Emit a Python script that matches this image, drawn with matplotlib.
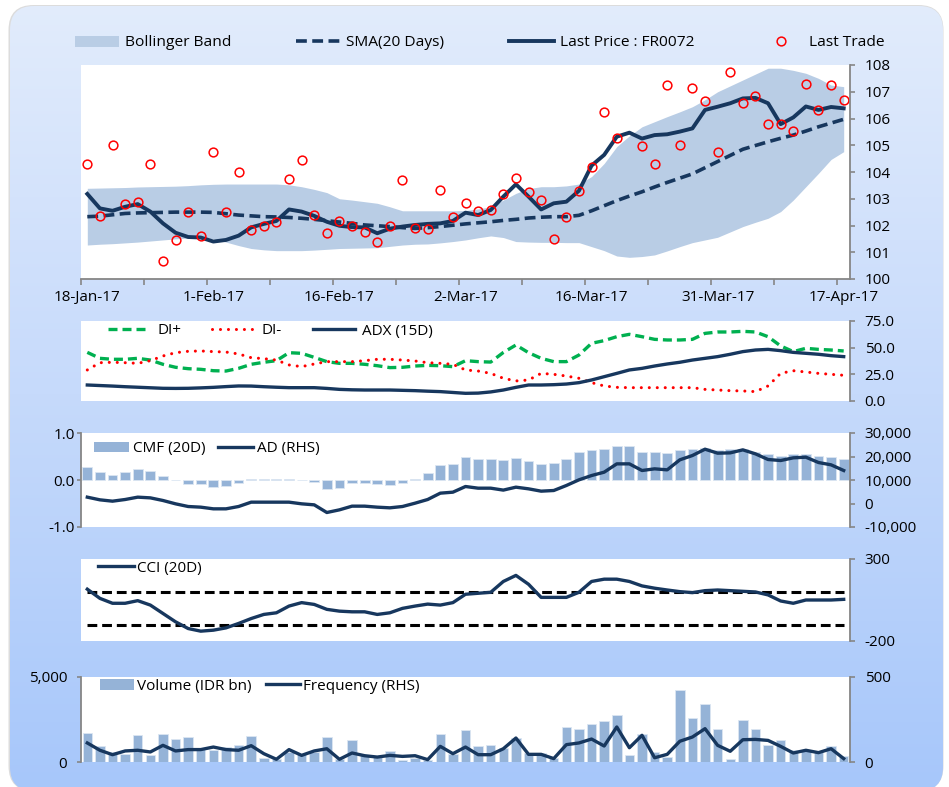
import numpy as np
import matplotlib
matplotlib.use("Agg")
import matplotlib.pyplot as plt
from matplotlib.patches import FancyBboxPatch, Patch
from matplotlib.lines import Line2D
from matplotlib.ticker import FuncFormatter
from matplotlib.colors import LinearSegmentedColormap

plt.rcParams['font.family'] = ['Open Sans', 'DejaVu Sans']
plt.rcParams['font.size'] = 11
plt.rcParams['axes.unicode_minus'] = False

# ---- data (61 trading days, 18-Jan-17 .. 17-Apr-17) ----
date_labels = ['18-Jan-17', '1-Feb-17', '16-Feb-17', '2-Mar-17', '16-Mar-17', '31-Mar-17', '17-Apr-17']

last_price = [103.18, 102.64, 102.55, 102.70, 102.80, 102.52, 102.08, 101.73, 101.57, 101.55,
              101.40, 101.46, 101.62, 101.93, 102.06, 102.17, 102.60, 102.52, 102.36, 102.14,
              101.99, 101.94, 101.93, 101.71, 101.88, 101.96, 102.02, 102.06, 102.08, 102.17,
              102.48, 102.39, 102.58, 103.08, 103.54, 103.08, 102.60, 102.83, 102.89, 103.30,
              104.24, 104.64, 105.32, 105.47, 105.25, 105.38, 105.41, 105.51, 105.63, 106.32,
              106.44, 106.57, 106.75, 106.77, 106.57, 105.79, 106.04, 106.45, 106.32, 106.43,
              106.38]

last_trade = [104.30, 102.37, 105.00, 102.79, 102.89, 104.30, 100.69, 101.46, 102.49, 101.59,
              104.74, 102.49, 103.99, 101.84, 101.99, 102.13, 103.74, 104.45, 102.39, 101.72,
              102.17, 101.99, 101.74, 101.38, 101.98, 103.69, 101.92, 101.88, 103.34, 102.31,
              102.84, 102.55, 102.58, 103.19, 103.78, 103.24, 102.94, 101.50, 102.32, 103.30,
              104.20, 106.26, 105.28, np.nan, 104.98, 104.30, 107.25, 105.02, 107.15, 106.64,
              104.74, 107.75, 106.59, 106.84, 105.79, 105.79, 105.55, 107.30, 106.32, 107.25,
              106.69]

sma_20 = [102.33, 102.35, 102.40, 102.45, 102.47, 102.48, 102.49, 102.50, 102.50, 102.50,
          102.49, 102.44, 102.39, 102.36, 102.33, 102.32, 102.30, 102.27, 102.23, 102.18,
          102.13, 102.08, 102.02, 101.99, 101.96, 101.92, 101.89, 101.92, 101.96, 102.01,
          102.06, 102.10, 102.14, 102.19, 102.23, 102.28, 102.31, 102.33, 102.33, 102.38,
          102.55, 102.74, 102.93, 103.10, 103.26, 103.44, 103.61, 103.77, 103.93, 104.16,
          104.39, 104.62, 104.85, 104.99, 105.13, 105.26, 105.38, 105.53, 105.69, 105.83,
          105.97]

band_upper = [103.39, 103.40, 103.41, 103.42, 103.44, 103.45, 103.46, 103.47, 103.49, 103.52,
              103.54, 103.55, 103.55, 103.55, 103.55, 103.55, 103.52, 103.45, 103.35, 103.23,
              103.00, 102.95, 102.89, 102.83, 102.70, 102.55, 102.55, 102.55, 102.55, 102.55,
              102.56, 102.62, 102.70, 102.95, 103.20, 103.38, 103.45, 103.45, 103.48, 103.55,
              103.83, 104.32, 104.95, 105.35, 105.69, 105.88, 106.07, 106.25, 106.44, 106.70,
              107.00, 107.22, 107.44, 107.66, 107.88, 107.88, 107.80, 107.69, 107.50, 107.25,
              107.19]

band_lower = [101.27, 101.30, 101.32, 101.35, 101.38, 101.42, 101.46, 101.50, 101.53, 101.56,
              101.50, 101.38, 101.25, 101.14, 101.09, 101.06, 101.06, 101.06, 101.08, 101.11,
              101.14, 101.15, 101.16, 101.17, 101.22, 101.27, 101.30, 101.31, 101.35, 101.40,
              101.46, 101.54, 101.61, 101.55, 101.40, 101.38, 101.37, 101.37, 101.36, 101.36,
              101.21, 101.06, 100.86, 100.81, 100.84, 100.90, 101.05, 101.21, 101.36, 101.46,
              101.56, 101.76, 101.96, 102.12, 102.27, 102.52, 102.95, 103.45, 103.95, 104.47,
              104.76]

di_plus = [45.6, 40.0, 39.1, 39.1, 40.0, 38.4, 34.4, 31.6, 30.3, 29.7,
           28.4, 28.1, 30.6, 34.4, 36.3, 37.8, 45.3, 44.7, 40.9, 36.9,
           35.3, 35.3, 34.4, 33.1, 31.3, 31.6, 32.8, 33.4, 33.1, 32.2,
           37.8, 36.9, 36.5, 45.5, 52.5, 45.3, 40.0, 36.9, 36.9, 43.1,
           54.1, 56.6, 60.3, 62.5, 60.3, 57.8, 57.2, 57.2, 57.8, 63.4,
           64.7, 64.7, 65.3, 64.7, 60.3, 51.6, 46.3, 49.4, 48.4, 47.8,
           46.9]

di_minus = [29.1, 35.9, 36.3, 35.9, 35.3, 37.8, 42.2, 45.3, 46.6, 46.9,
            46.3, 45.9, 44.1, 40.6, 39.7, 38.4, 33.8, 32.2, 34.7, 36.9,
            36.9, 36.9, 37.8, 39.1, 39.1, 38.4, 37.5, 35.9, 35.3, 34.4,
            29.1, 28.1, 25.9, 21.3, 18.8, 19.7, 25.9, 25.0, 23.4, 21.3,
            17.2, 14.1, 12.8, 12.5, 12.5, 12.5, 12.5, 12.5, 12.5, 10.9,
            10.3, 9.7, 9.4, 8.8, 14.1, 25.9, 28.4, 27.2, 25.9, 25.0,
            24.1]

adx = [15.0, 14.5, 14.0, 13.4, 12.9, 12.4, 11.9, 11.8, 11.9, 12.3,
       12.8, 13.5, 14.1, 14.0, 13.4, 12.9, 12.5, 12.5, 12.5, 11.8,
       10.9, 10.5, 10.3, 10.3, 10.3, 10.0, 9.7, 9.2, 8.8, 8.0,
       7.2, 7.4, 8.5, 10.3, 12.8, 15.0, 15.0, 15.3, 15.9, 17.2,
       19.7, 22.8, 25.9, 29.1, 30.6, 32.8, 34.7, 36.3, 38.4, 40.0,
       41.6, 43.8, 46.3, 47.8, 48.4, 47.2, 45.6, 44.7, 43.8, 42.5,
       41.6]

cmf_20 = [0.28, 0.16, 0.10, 0.16, 0.24, 0.20, 0.085, -0.01, -0.085, -0.09,
          -0.14, -0.12, -0.06, 0.02, 0.02, 0.02, 0.02, -0.01, -0.035, -0.20,
          -0.17, -0.06, -0.06, -0.09, -0.11, -0.07, 0.02, 0.14, 0.31, 0.35,
          0.50, 0.44, 0.45, 0.43, 0.46, 0.40, 0.33, 0.37, 0.45, 0.60,
          0.64, 0.67, 0.72, 0.72, 0.60, 0.60, 0.58, 0.64, 0.67, 0.69,
          0.64, 0.65, 0.65, 0.60, 0.55, 0.51, 0.55, 0.56, 0.51, 0.48,
          0.45]

ad_line = [2700, 1560, 990, 1700, 2700, 2400, 1280, -140, -1280, -1560,
           -2270, -2270, -1280, 570, 570, 570, 570, -140, -570, -3830,
           -2700, -1130, -1130, -1560, -1840, -1280, 140, 1700, 4400, 4820,
           7230, 6520, 6520, 5700, 6950, 6240, 5250, 5530, 7660, 10070,
           11900, 13330, 16870, 16870, 14040, 14750, 14320, 18580, 20420, 23110,
           21410, 21550, 22830, 21130, 18720, 18290, 19430, 19710, 17440, 16450,
           14040]

cci_20 = [116, 60, 30, 30, 46, 19, -32, -83, -124, -140,
          -134, -120, -93, -63, -38, -28, 13, 34, 23, -7,
          -18, -22, -22, -38, -28, -1, 13, 25, 19, 34,
          85, 91, 97, 163, 200, 146, 66, 66, 66, 97,
          163, 177, 177, 163, 136, 122, 111, 101, 95, 107,
          111, 107, 103, 99, 81, 44, 30, 50, 50, 50,
          54]
cci_levels = [100, -100]

volume = [1705, 920, 600, 490, 1570, 430, 1670, 1370, 1470, 780,
          690, 880, 980, 1510, 235, 196, 590, 490, 590, 1470,
          196, 1270, 390, 290, 650, 137, 235, 100, 1630, 450,
          1860, 940, 980, 843, 1430, 530, 530, 255, 2060, 1960,
          2250, 2390, 2740, 430, 1630, 590, 295, 4250, 2610, 3390,
          1920, 157, 2450, 1960, 1020, 1270, 725, 725, 590, 920,
          333]

frequency = [112, 69, 43, 65, 69, 59, 98, 65, 73, 73,
             88, 73, 69, 96, 49, 16, 73, 39, 65, 78,
             16, 53, 37, 29, 39, 33, 37, 14, 92, 49,
             88, 43, 43, 78, 141, 45, 45, 20, 102, 112,
             135, 94, 206, 84, 157, 25, 45, 122, 147, 196,
             98, 63, 131, 133, 127, 92, 53, 69, 55, 78,
             20]

NAVY = '#17375e'
BAND = '#b9cde5'
BAR = '#95b3d7'
GRAY = '#868686'

W, H = 949, 787
fig = plt.figure(figsize=(W / 100, H / 100), dpi=100)


def box(left, top, right, bottom):
    return [left / W, 1 - bottom / H, (right - left) / W, (bottom - top) / H]


def style(ax, keep, pad=7, length=3.5):
    for s in ['left', 'right', 'top', 'bottom']:
        ax.spines[s].set_visible(s in keep)
        ax.spines[s].set_color(GRAY)
        ax.spines[s].set_linewidth(1.3)
    ax.tick_params(axis='y', colors=GRAY, labelcolor='black', length=length, width=1.2, pad=pad)
    ax.set_xlim(-0.5, len(x) - 0.5)


fmt1 = FuncFormatter(lambda v, _: '{:.1f}'.format(v))
fmt0 = FuncFormatter(lambda v, _: '{:,.0f}'.format(v))

# background panel with gradient and a faint shadow on its edge
bg = fig.add_axes([0, 0, 1, 1], zorder=-10)
bg.set_xlim(0, W)
bg.set_ylim(0, H)
bg.axis('off')
shadow = FancyBboxPatch((8.5, -4), 935, 786, boxstyle='round,pad=0,rounding_size=25',
                        transform=bg.transData, facecolor='#dcdcdc', edgecolor='none', zorder=-1)
bg.add_patch(shadow)
cmap = LinearSegmentedColormap.from_list('bg', ['#a7c7fa', '#c6dafb', '#e2ecfc'])
im = bg.imshow(np.linspace(0, 1, 256).reshape(-1, 1), extent=[0, W, 0, H], origin='lower',
               cmap=cmap, aspect='auto', zorder=0)
frame = FancyBboxPatch((10, -4), 933, 785, boxstyle='round,pad=0,rounding_size=24',
                       transform=bg.transData, facecolor='none', edgecolor='none')
bg.add_patch(frame)
im.set_clip_path(frame)

x = np.arange(len(last_price))

# ---- price panel ----
ax1 = fig.add_axes(box(81, 65, 850, 279))
ax1.fill_between(x, band_lower, band_upper, color=BAND, lw=0)
ax1.plot(x, sma_20, color=NAVY, lw=2.6, ls=(0, (3, 1.5)))
ax1.plot(x, last_price, color=NAVY, lw=2.8)
ax1.plot(x, last_trade, ls='none', marker='o', ms=6.3, mfc='none', mec='red', mew=1.1)
style(ax1, ['right', 'bottom'], pad=7)
ax1.yaxis.tick_right()
ax1.set_ylim(100, 108)
ax1.set_yticks(range(100, 109))
ax1.set_xticks(np.arange(-0.5, len(x) - 1, 5))
ax1.set_xticklabels([])
ax1.set_xticks(np.arange(0, len(x), 10), minor=True)
ax1.set_xticklabels(date_labels, minor=True)
ax1.tick_params(axis='x', which='major', colors=GRAY, length=4, width=1.2)
ax1.tick_params(axis='x', which='minor', length=0, pad=8)

fig.legend(handles=[Patch(facecolor=BAND, edgecolor='none', label='Bollinger Band'),
                    Line2D([], [], color=NAVY, lw=2.6, ls=(0, (3, 1.5)), label='SMA(20 Days)'),
                    Line2D([], [], color=NAVY, lw=2.8, label='Last Price : FR0072'),
                    Line2D([], [], ls='none', marker='o', ms=6.3, mfc='none', mec='red', mew=1.1,
                           label='Last Trade')],
           loc='center left', bbox_to_anchor=(75 / W, 1 - 43 / H), ncol=4, frameon=False,
           fontsize=11.15, handlelength=2.85, handletextpad=0.38, columnspacing=4.2,
           borderpad=0, borderaxespad=0, numpoints=1)

# ---- DMI panel ----
ax2 = fig.add_axes(box(81, 321, 850, 401))
ax2.plot(x, di_plus, color='#00b050', lw=2.4, ls=(0, (2.7, 1.5)), label='DI+')
ax2.plot(x, di_minus, color='red', lw=2.2, ls=(0, (0.01, 2.6)), dash_capstyle='round', label='DI-')
ax2.plot(x, adx, color=NAVY, lw=2.4, label='ADX (15D)')
style(ax2, ['right'])
ax2.yaxis.tick_right()
ax2.set_ylim(0, 75)
ax2.set_yticks([0, 25, 50, 75])
ax2.yaxis.set_major_formatter(fmt1)
ax2.set_xticks([])
ax2.legend(loc='center left', bbox_to_anchor=(27 / 769, 0.875), ncol=3, frameon=False,
           handlelength=2.75, handletextpad=0.5, columnspacing=2.0, borderpad=0, borderaxespad=0)

# ---- CMF / AD panel ----
ax3 = fig.add_axes(box(81, 433, 850, 527))
ax3.bar(x, cmf_20, width=0.78, color=BAR, edgecolor='#dce6f2', lw=0.6, label='CMF (20D)')
style(ax3, ['left'], pad=1.5, length=3)
ax3.set_ylim(-1, 1)
ax3.set_yticks([-1, 0, 1])
ax3.yaxis.set_major_formatter(fmt1)
ax3.set_xticks([])
ax3b = ax3.twinx()
ax3b.plot(x, ad_line, color=NAVY, lw=2.4, label='AD (RHS)')
style(ax3b, ['right'])
ax3b.set_ylim(-10000, 30000)
ax3b.set_yticks(range(-10000, 30001, 10000))
ax3b.yaxis.set_major_formatter(fmt0)
ax3b.legend(handles=[Patch(facecolor=BAR, label='CMF (20D)'),
                     Line2D([], [], color=NAVY, lw=2.4, label='AD (RHS)')],
            loc='center left', bbox_to_anchor=(13 / 769, 0.83), ncol=2, frameon=False,
            handlelength=2.3, handletextpad=0.25, columnspacing=0.8, borderpad=0, borderaxespad=0)

# ---- CCI panel ----
ax4 = fig.add_axes(box(81, 559, 850, 641))
for level in cci_levels:
    ax4.plot(x, np.full(len(x), level), color='black', lw=2.2, ls=(0, (3.2, 1.6)))
ax4.plot(x, cci_20, color=NAVY, lw=2.4, label='CCI (20D)')
style(ax4, ['right'])
ax4.yaxis.tick_right()
ax4.set_ylim(-200, 300)
ax4.set_yticks([-200, 300])
ax4.set_xticks([])
ax4.legend(handles=[ax4.lines[-1]], loc='center left', bbox_to_anchor=(17 / 769, 0.89),
           frameon=False, handlelength=2.35, handletextpad=0.2, borderpad=0, borderaxespad=0)

# ---- volume / frequency panel ----
ax5 = fig.add_axes(box(81, 677, 850, 762))
ax5.bar(x, volume, width=0.75, color=BAR, edgecolor='#dce6f2', lw=0.6)
style(ax5, ['left'], pad=7, length=3)
ax5.set_ylim(0, 5000)
ax5.set_yticks([0, 5000])
ax5.yaxis.set_major_formatter(fmt0)
ax5.set_xticks([])
ax5b = ax5.twinx()
ax5b.plot(x, frequency, color=NAVY, lw=2.4)
style(ax5b, ['right'])
ax5b.set_ylim(0, 500)
ax5b.set_yticks([0, 500])
ax5b.legend(handles=[Patch(facecolor=BAR, label='Volume (IDR bn)'),
                     Line2D([], [], color=NAVY, lw=2.4, label='Frequency (RHS)')],
            loc='center left', bbox_to_anchor=(19 / 769, 0.894), ncol=2, frameon=False,
            handlelength=2.2, handletextpad=0.2, columnspacing=1.0, borderpad=0, borderaxespad=0)

fig.savefig('out.png', dpi=100)
